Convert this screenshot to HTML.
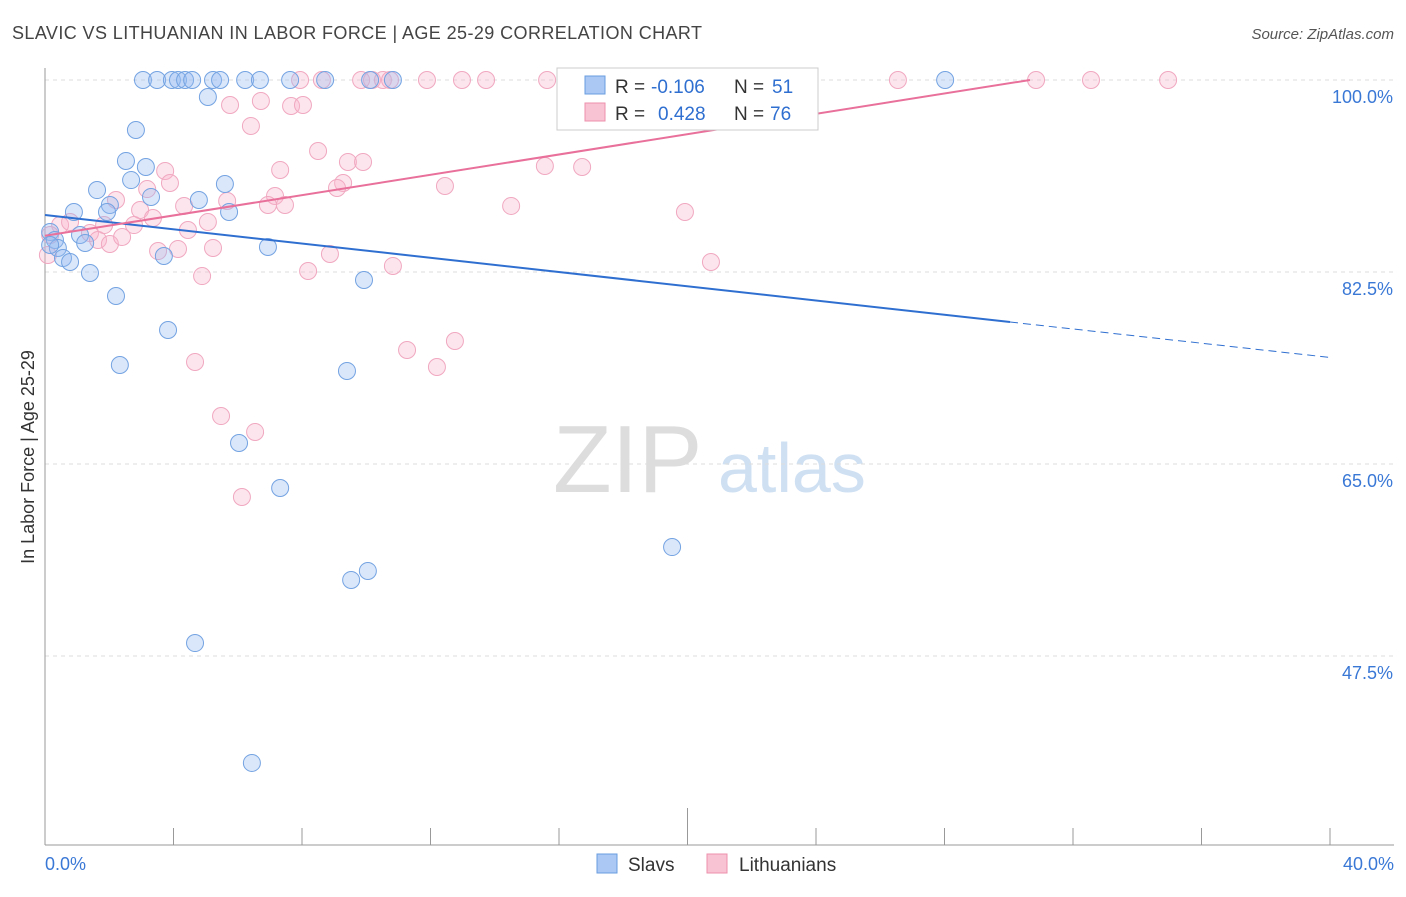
<!DOCTYPE html>
<html><head><meta charset="utf-8"><style>
body{margin:0;background:#fff;font-family:"Liberation Sans",sans-serif}
svg text{font-family:"Liberation Sans",sans-serif}
</style></head><body>
<svg id="c" width="1406" height="892">
<text x="12" y="39" font-size="18" fill="#444" textLength="690">SLAVIC VS LITHUANIAN IN LABOR FORCE | AGE 25-29 CORRELATION CHART</text>
<text x="1394" y="39" font-size="15" fill="#555" font-style="italic" text-anchor="end">Source: ZipAtlas.com</text>
<text x="553" y="492" font-size="96" fill="#ddd" font-family="Liberation Serif">ZIP</text>
<text x="718" y="492" font-size="70" fill="#cfe0f3">atlas</text>
<text transform="translate(34,457) rotate(-90)" font-size="18" fill="#333" text-anchor="middle">In Labor Force | Age 25-29</text>
<g id="grid"></g><g id="axes"></g><g id="marks"></g>
<g>
<rect x="557" y="68" width="261" height="62" fill="#fff" stroke="#ccc"/>
<rect x="585" y="76" width="20" height="18" fill="#aac8f3" stroke="#6a9de0"/>
<text x="615" y="93" font-size="19" fill="#333">R =</text>
<text x="651" y="93" font-size="19" fill="#2f6fd0">-0.106</text>
<text x="734" y="93" font-size="19" fill="#333">N =</text>
<text x="772" y="93" font-size="19" fill="#2f6fd0">51</text>
<rect x="585" y="103" width="20" height="18" fill="#f8c4d4" stroke="#ee90ae"/>
<text x="615" y="120" font-size="19" fill="#333">R =</text>
<text x="658" y="120" font-size="19" fill="#2f6fd0">0.428</text>
<text x="734" y="120" font-size="19" fill="#333">N =</text>
<text x="770" y="120" font-size="19" fill="#2f6fd0">76</text>
</g>
<g>
<rect x="597" y="854" width="20" height="19" fill="#aac8f3" stroke="#6a9de0"/>
<text x="628" y="871" font-size="19" fill="#333">Slavs</text>
<rect x="707" y="854" width="20" height="19" fill="#f8c4d4" stroke="#ee90ae"/>
<text x="739" y="871" font-size="19" fill="#333">Lithuanians</text>
</g>
</svg>
<script>
const yTicks=[100,82.5,65,47.5];
const yTickLabels=["100.0%","82.5%","65.0%","47.5%"];
const xTickLabels=["0.0%","40.0%"];
const slavX=[3.05,3.49,3.95,4.14,4.36,4.58,5.23,5.45,6.23,6.69,7.63,8.72,10.12,10.83,28.02,5.07,2.83,2.52,3.14,1.62,2.68,3.30,4.79,5.60,2.02,1.93,0.90,5.73,0.16,0.31,1.09,1.25,0.40,0.56,0.78,1.40,3.70,6.94,9.93,2.21,3.83,2.33,9.40,6.04,7.32,19.52,10.05,9.53,4.67,6.44,0.16];
const slavY=[100,100,100,100,100,100,100,100,100,100,100,100,100,100,100,98.45,95.44,92.62,92.07,89.97,90.88,89.34,89.06,90.52,88.61,87.97,87.97,87.97,86.15,85.42,85.87,85.14,84.69,83.78,83.41,82.41,83.96,84.78,81.77,80.31,77.21,74.02,73.48,66.91,62.81,57.43,55.25,54.43,48.68,37.75,84.96];
const lithX=[7.94,8.62,9.84,10.18,10.52,10.74,11.89,12.98,13.73,15.63,16.22,22.57,26.55,30.85,32.56,34.96,6.72,5.76,7.66,8.03,6.41,8.50,7.32,9.43,9.90,3.74,3.18,3.89,7.16,9.28,9.09,12.45,15.56,16.72,2.21,2.96,3.36,4.33,6.94,7.47,5.67,14.51,19.92,0.47,0.78,1.40,1.84,2.77,5.07,4.45,1.65,2.02,2.40,3.52,4.14,5.23,8.87,10.83,8.19,4.89,20.73,12.76,11.27,12.20,4.67,5.48,6.54,6.13,0.09,0.16];
const lithY=[100,100,100,100,100,100,100,100,100,100,100,100,100,100,100,100,98.09,97.72,97.63,97.72,95.81,93.53,91.80,92.53,92.53,91.71,90.06,90.61,89.43,90.61,90.16,90.34,92.16,92.07,89.06,88.15,87.42,88.52,88.61,88.61,88.97,88.52,87.97,86.78,87.06,86.05,86.78,86.78,87.06,86.33,85.42,85.05,85.69,84.41,84.60,84.69,84.14,83.05,82.59,82.13,83.41,76.21,75.39,73.84,74.30,69.37,67.92,61.99,84.05,85.87];
const slavTrend=[87.69,77.94,74.71];
const lithTrend=[85.8,100];
const sx=v=>45+v*32.125, sy=v=>80+(100-v)*10.971;
const NS="http://www.w3.org/2000/svg";
function mk(t,a,p){const e=document.createElementNS(NS,t);for(const k in a)e.setAttribute(k,a[k]);document.getElementById(p).appendChild(e);return e;}
yTicks.forEach((t,i)=>{
 const l=mk('line',{x1:45,x2:1394,y1:sy(t),y2:sy(t),stroke:'#ddd','stroke-dasharray':'4,4'},'grid');
 
 
 const tx=mk('text',{x:1393,y:sy(t)+23,'font-size':18,fill:'#3a78d6','text-anchor':'end'},'axes');
 tx.textContent=yTickLabels[i];
 
 
});
const ax=mk('line',{x1:45,x2:45,y1:68,y2:845,stroke:'#999'},'axes');


const bx=mk('line',{x1:45,x2:1394,y1:845,y2:845,stroke:'#999'},'axes');


for(let i=0;i<=10;i++){
 const t=mk('line',{x1:sx(i*4),x2:sx(i*4),y1:i==5?808:828,y2:845,stroke:'#999'},'axes');
 
 
}
[[0,'start',45],[1,'end',1394]].forEach(([i,a,x])=>{
 const t=mk('text',{x:x,y:870,'font-size':18,fill:'#3a78d6','text-anchor':a},'axes');
 t.textContent=xTickLabels[i];
 
 
});
lithX.forEach((x,i)=>{
 const c=mk('circle',{cx:sx(x),cy:sy(lithY[i]),r:8.5,fill:'rgba(248,180,202,0.35)',stroke:'#f0a8c0','stroke-width':1},'marks');
 
 
});
slavX.forEach((x,i)=>{
 const c=mk('circle',{cx:sx(x),cy:sy(slavY[i]),r:8.5,fill:'rgba(150,185,240,0.35)',stroke:'#74a3e2','stroke-width':1},'marks');
 
 
});
let l1=mk('line',{x1:sx(0),y1:sy(slavTrend[0]),x2:sx(30.04),y2:sy(slavTrend[1]),stroke:'#2f6fd0','stroke-width':2},'marks');


let l2=mk('line',{x1:sx(30.04),y1:sy(slavTrend[1]),x2:sx(40),y2:sy(slavTrend[2]),stroke:'#2f6fd0','stroke-width':1,'stroke-dasharray':'8,5'},'marks');


let l3=mk('line',{x1:sx(0),y1:sy(lithTrend[0]),x2:sx(30.66),y2:sy(lithTrend[1]),stroke:'#e8709a','stroke-width':2},'marks');


</script>
</body></html>
